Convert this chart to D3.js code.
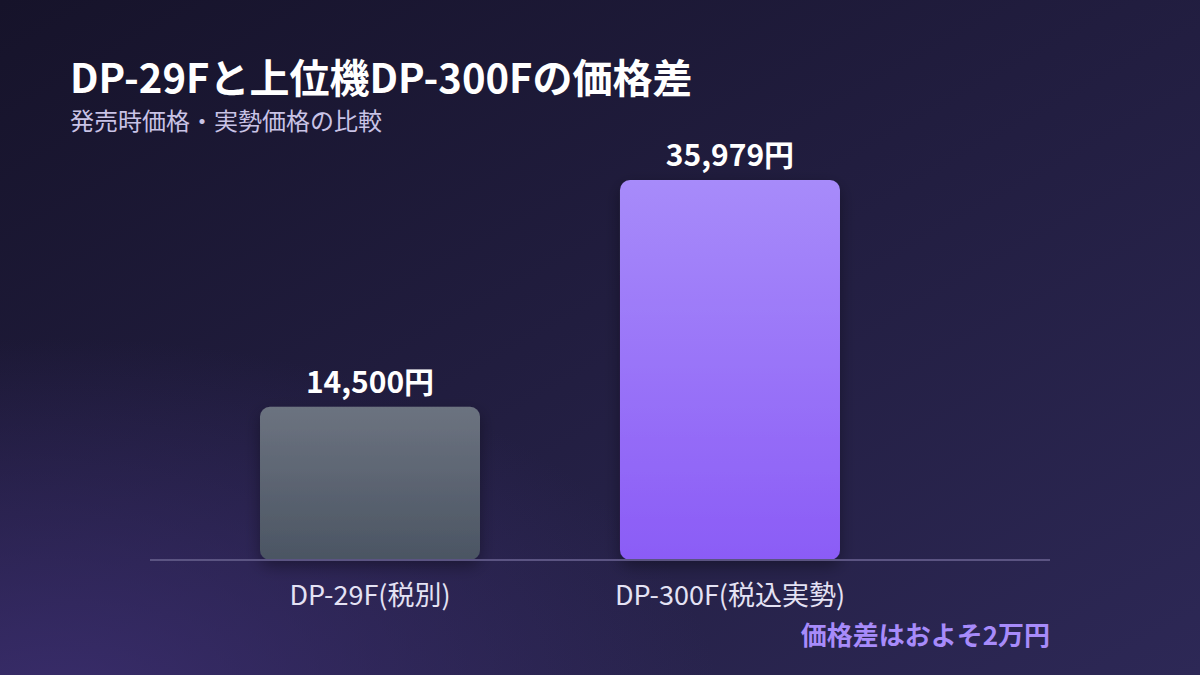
<!DOCTYPE html>
<html><head><meta charset="utf-8">
<script src="https://cdn.jsdelivr.net/npm/d3@7"></script>
<style>html,body{margin:0;padding:0;background:#1a1830;}svg{display:block;font-family:"Noto Sans CJK JP","Noto Sans",sans-serif;}</style>
</head><body>
<svg id="c" width="1200" height="675"></svg>
<script>
const categories = ["DP-29F(税別)", "DP-300F(税込実勢)"];
const values = [14500, 35979];
const valueLabels = ["14,500円", "35,979円"];
const title = "DP-29Fと上位機DP-300Fの価格差";
const subtitle = "発売時価格・実勢価格の比較";
const note = "価格差はおよそ2万円";

const svg = d3.select("#c");
const defs = svg.append("defs");

const bg = defs.append("linearGradient").attr("id","bg").attr("x1","0").attr("y1","0").attr("x2","1").attr("y2","1");
bg.append("stop").attr("offset","0%").attr("stop-color","#16132a");
bg.append("stop").attr("offset","100%").attr("stop-color","#2d2856");
const glow = defs.append("radialGradient").attr("id","glow").attr("cx","0.05").attr("cy","1.05").attr("r","0.55");
glow.append("stop").attr("offset","0%").attr("stop-color","#3d2f72").attr("stop-opacity",0.85);
glow.append("stop").attr("offset","100%").attr("stop-color","#3d2f72").attr("stop-opacity",0);

const colors = [["#6c7380","#4b5563"],["#a78bfa","#8b5cf6"]];
colors.forEach((c,i)=>{
  const g = defs.append("linearGradient").attr("id","bar"+i).attr("x1","0").attr("y1","0").attr("x2","0").attr("y2","1");
  g.append("stop").attr("offset","0%").attr("stop-color",c[0]);
  g.append("stop").attr("offset","100%").attr("stop-color",c[1]);
});
const sh = defs.append("filter").attr("id","shadow").attr("x","-30%").attr("y","-30%").attr("width","160%").attr("height","160%");
sh.append("feDropShadow").attr("dx",0).attr("dy",6).attr("stdDeviation",8).attr("flood-color","#000").attr("flood-opacity",0.35);

svg.append("rect").attr("width",1200).attr("height",675).attr("fill","url(#bg)");
svg.append("rect").attr("width",1200).attr("height",675).attr("fill","url(#glow)");

const x = d3.scaleBand().domain(categories).range([150,950]).paddingInner(140/360).paddingOuter(0.3056);
const y = d3.scaleLinear().domain([0, 35979]).range([560,180]);

svg.append("text").attr("x",70).attr("y",93).attr("fill","#ffffff").attr("font-size",40).attr("font-weight",700).text(title);
svg.append("text").attr("x",70).attr("y",130).attr("fill","#c9c3e6").attr("font-size",24).text(subtitle);

svg.append("g").selectAll("rect").data(values).join("rect")
  .attr("x",(d,i)=>x(categories[i]))
  .attr("y",d=>y(d))
  .attr("width",x.bandwidth())
  .attr("height",d=>y(0)-y(d))
  .attr("rx",10).attr("ry",10)
  .attr("fill",(d,i)=>"url(#bar"+i+")")
  .attr("filter","url(#shadow)");

svg.append("line").attr("x1",150).attr("x2",1050).attr("y1",y(0)).attr("y2",y(0))
  .attr("stroke","#5b5482").attr("stroke-width",2);

svg.append("g").selectAll("text").data(values).join("text")
  .attr("x",(d,i)=>x(categories[i])+x.bandwidth()/2)
  .attr("y",d=>y(d)-14)
  .attr("text-anchor","middle").attr("fill","#ffffff").attr("font-size",30).attr("font-weight",700)
  .text((d,i)=>valueLabels[i]);

svg.append("g").selectAll("text").data(categories).join("text")
  .attr("x",d=>x(d)+x.bandwidth()/2)
  .attr("y",605)
  .attr("text-anchor","middle").attr("fill","#e4e2f4").attr("font-size",27)
  .text(d=>d);

svg.append("text").attr("x",1050).attr("y",645).attr("text-anchor","end").attr("fill","#a78bfa")
  .attr("font-size",26).attr("font-weight",700).text(note);
</script>
</body></html>
